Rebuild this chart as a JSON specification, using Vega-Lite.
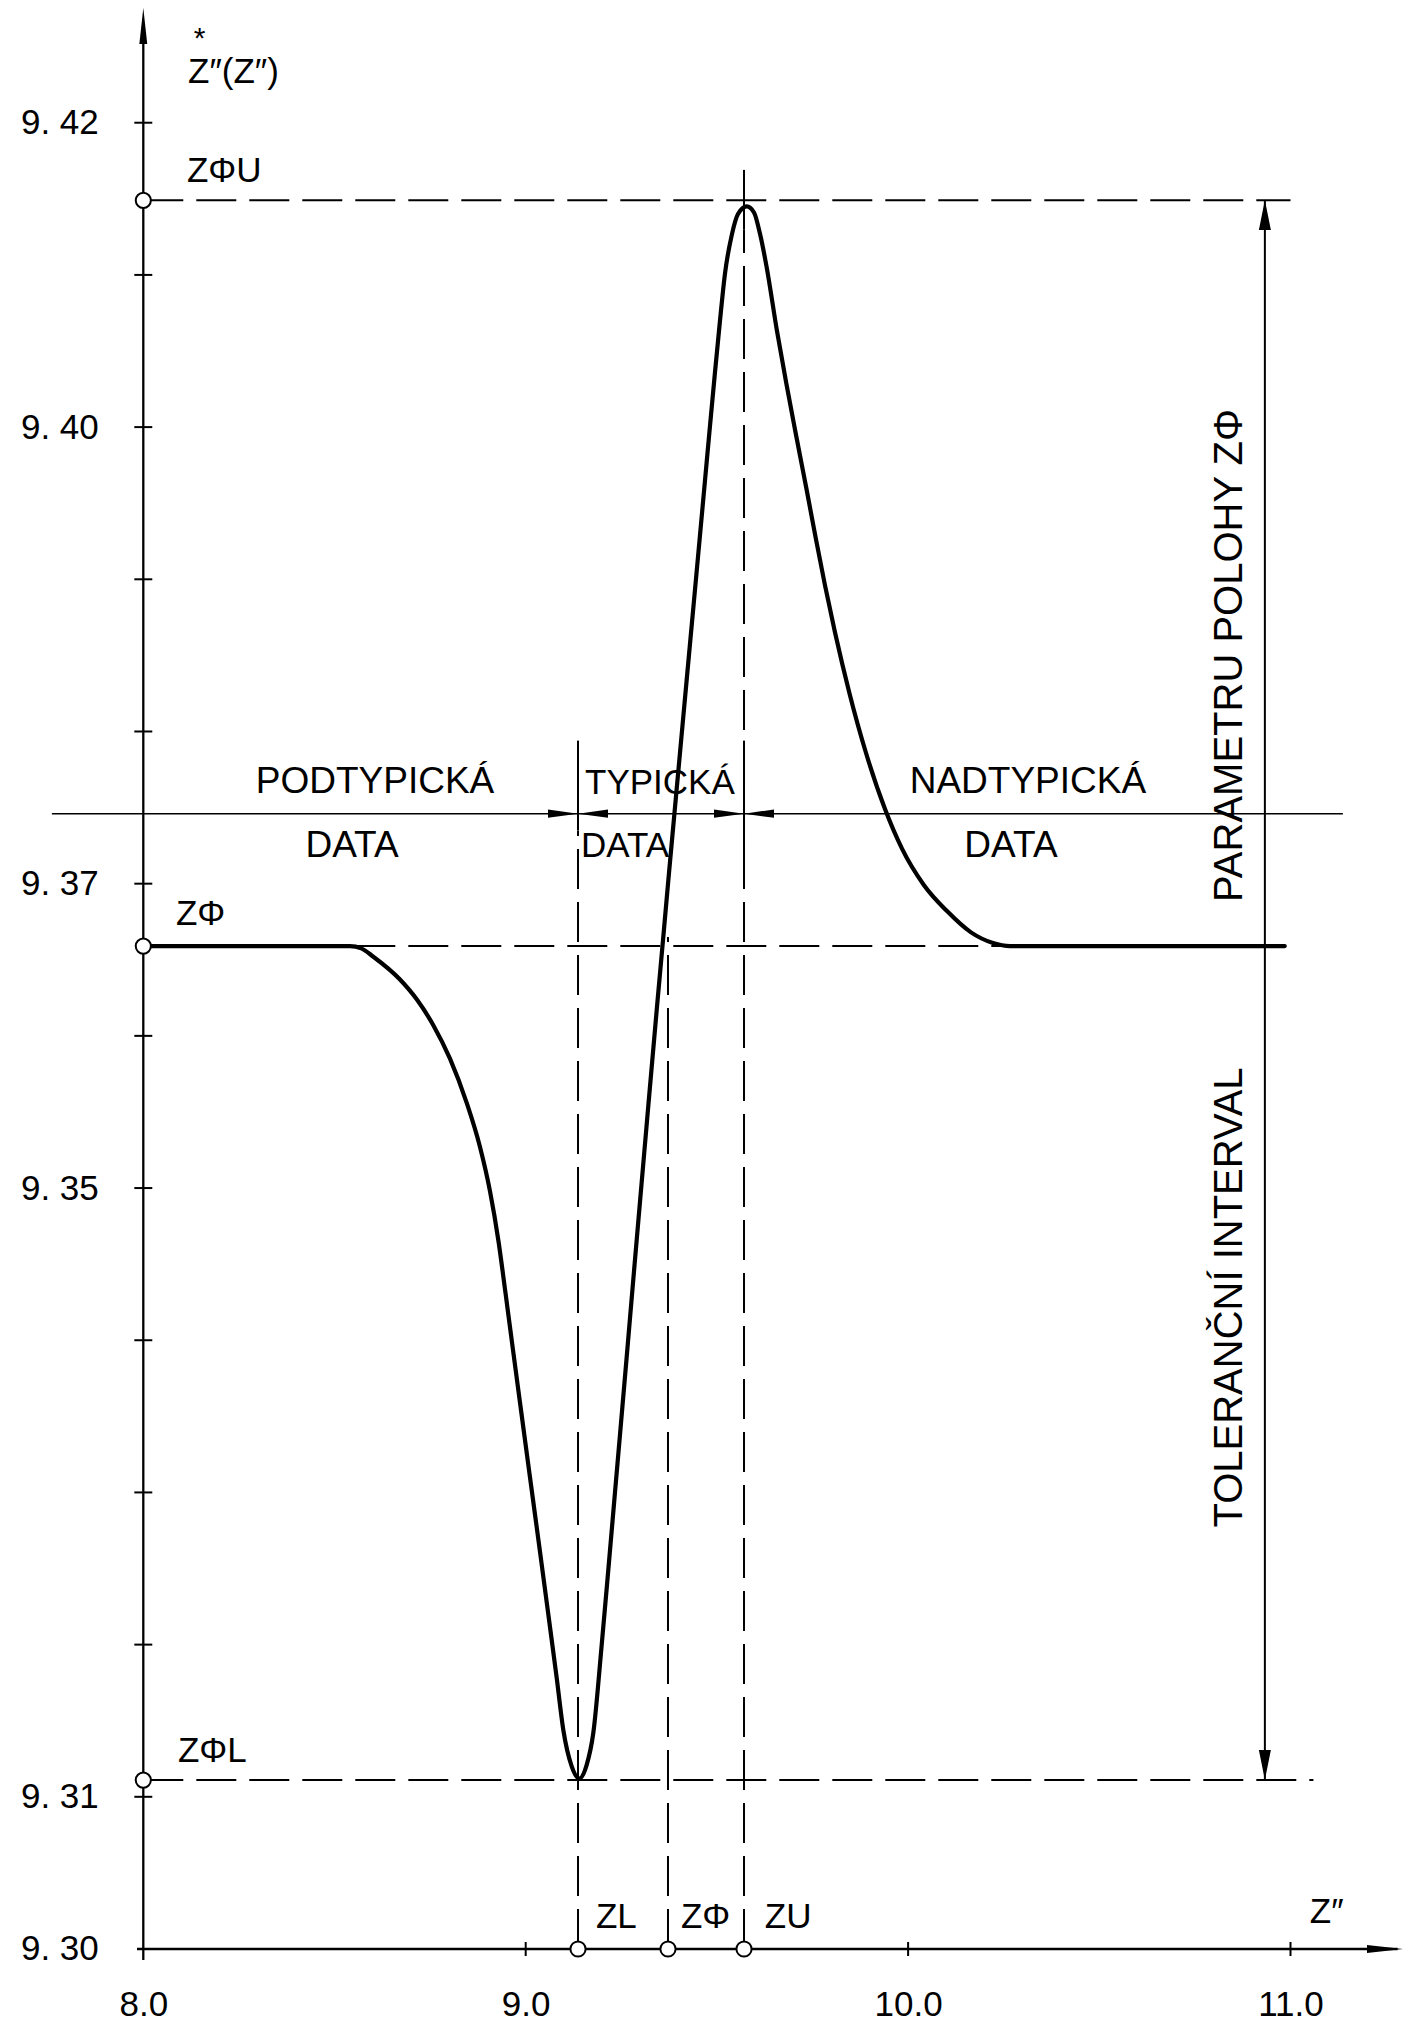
{
  "$schema": "https://vega.github.io/schema/vega-lite/v6.json",
  "width": 1415,
  "height": 2025,
  "autosize": {"type": "none"},
  "padding": 0,
  "background": "white",
  "config": {"view": {"stroke": null}, "font": "Liberation Sans, DejaVu Sans, sans-serif"},
  "datasets": {
    "curve": [
      {"x": 8.0000, "y": 9.3659}, {"x": 8.5405, "y": 9.3659}, {"x": 8.5700, "y": 9.36575}, {"x": 8.6015, "y": 9.3652},
      {"x": 8.6713, "y": 9.3637}, {"x": 8.7150, "y": 9.3624}, {"x": 8.7584, "y": 9.3607}, {"x": 8.8020, "y": 9.3585},
      {"x": 8.8457, "y": 9.3556}, {"x": 8.8805, "y": 9.3527}, {"x": 8.9066, "y": 9.3498}, {"x": 8.9289, "y": 9.3465},
      {"x": 8.9472, "y": 9.3431}, {"x": 8.9655, "y": 9.3396}, {"x": 8.9851, "y": 9.3359}, {"x": 9.0112, "y": 9.3310},
      {"x": 9.0374, "y": 9.3261}, {"x": 9.0591, "y": 9.3220}, {"x": 9.0811, "y": 9.3178}, {"x": 9.0983, "y": 9.3144},
      {"x": 9.1203, "y": 9.3120}, {"x": 9.1402, "y": 9.3112}, {"x": 9.1595, "y": 9.3121}, {"x": 9.1768, "y": 9.3142},
      {"x": 9.1988, "y": 9.3200}, {"x": 9.2160, "y": 9.3249}, {"x": 9.2335, "y": 9.3300}, {"x": 9.2466, "y": 9.3338},
      {"x": 9.2641, "y": 9.3389}, {"x": 9.2814, "y": 9.3440}, {"x": 9.2989, "y": 9.3491}, {"x": 9.3206, "y": 9.3554},
      {"x": 9.3426, "y": 9.3617}, {"x": 9.3598, "y": 9.3665}, {"x": 9.3729, "y": 9.3702}, {"x": 9.3878, "y": 9.3743},
      {"x": 9.4035, "y": 9.3786}, {"x": 9.4210, "y": 9.3834}, {"x": 9.4401, "y": 9.3886}, {"x": 9.4558, "y": 9.3929},
      {"x": 9.4689, "y": 9.3965}, {"x": 9.4820, "y": 9.4001}, {"x": 9.4950, "y": 9.4036}, {"x": 9.5081, "y": 9.4070},
      {"x": 9.5212, "y": 9.4101}, {"x": 9.5387, "y": 9.4126}, {"x": 9.5552, "y": 9.4140}, {"x": 9.5780, "y": 9.4145},
      {"x": 9.5970, "y": 9.4141}, {"x": 9.6127, "y": 9.4127}, {"x": 9.6302, "y": 9.4105}, {"x": 9.6572, "y": 9.4063},
      {"x": 9.6820, "y": 9.4028}, {"x": 9.7076, "y": 9.3994}, {"x": 9.7338, "y": 9.3960}, {"x": 9.7578, "y": 9.3928},
      {"x": 9.7827, "y": 9.3896}, {"x": 9.8089, "y": 9.3865}, {"x": 9.8468, "y": 9.3825}, {"x": 9.8886, "y": 9.3787},
      {"x": 9.9396, "y": 9.3749}, {"x": 9.9840, "y": 9.3723}, {"x": 10.0416, "y": 9.3699}, {"x": 10.1017, "y": 9.3682},
      {"x": 10.1645, "y": 9.3668}, {"x": 10.2220, "y": 9.3661}, {"x": 10.2665, "y": 9.3659}, {"x": 10.9850, "y": 9.3659}
    ],
    "lines": [
      {"kind": "axis", "x": 8, "x2": 8, "y": 9.29928, "y2": 9.4265},
      {"kind": "axis", "x": 7.9835, "x2": 11.28, "y": 9.30, "y2": 9.30},
      {"kind": "tick", "x": 7.9765, "x2": 8.0235, "y": 9.31, "y2": 9.31},
      {"kind": "tick", "x": 7.9765, "x2": 8.0235, "y": 9.32, "y2": 9.32},
      {"kind": "tick", "x": 7.9765, "x2": 8.0235, "y": 9.33, "y2": 9.33},
      {"kind": "tick", "x": 7.9765, "x2": 8.0235, "y": 9.34, "y2": 9.34},
      {"kind": "tick", "x": 7.9765, "x2": 8.0235, "y": 9.35, "y2": 9.35},
      {"kind": "tick", "x": 7.9765, "x2": 8.0235, "y": 9.36, "y2": 9.36},
      {"kind": "tick", "x": 7.9765, "x2": 8.0235, "y": 9.37, "y2": 9.37},
      {"kind": "tick", "x": 7.9765, "x2": 8.0235, "y": 9.38, "y2": 9.38},
      {"kind": "tick", "x": 7.9765, "x2": 8.0235, "y": 9.39, "y2": 9.39},
      {"kind": "tick", "x": 7.9765, "x2": 8.0235, "y": 9.40, "y2": 9.40},
      {"kind": "tick", "x": 7.9765, "x2": 8.0235, "y": 9.41, "y2": 9.41},
      {"kind": "tick", "x": 7.9765, "x2": 8.0235, "y": 9.42, "y2": 9.42},
      {"kind": "tick", "x": 9, "x2": 9, "y": 9.29954, "y2": 9.30046},
      {"kind": "tick", "x": 10, "x2": 10, "y": 9.29954, "y2": 9.30046},
      {"kind": "tick", "x": 11, "x2": 11, "y": 9.29954, "y2": 9.30046},
      {"kind": "dash", "x": 8, "x2": 11.0, "y": 9.4149, "y2": 9.4149},
      {"kind": "dash", "x": 8, "x2": 10.985, "y": 9.3659, "y2": 9.3659},
      {"kind": "dash", "x": 8, "x2": 11.06, "y": 9.3111, "y2": 9.3111},
      {"kind": "dash", "x": 9.1368, "x2": 9.1368, "y": 9.30, "y2": 9.3735},
      {"kind": "dash", "x": 9.3721, "x2": 9.3721, "y": 9.30, "y2": 9.3665},
      {"kind": "dash", "x": 9.5709, "x2": 9.5709, "y": 9.30, "y2": 9.4130},
      {"kind": "solid", "x": 9.1368, "x2": 9.1368, "y": 9.3735, "y2": 9.3794},
      {"kind": "solid", "x": 9.5709, "x2": 9.5709, "y": 9.4130, "y2": 9.4169},
      {"kind": "solid", "x": 9.5709, "x2": 9.5709, "y": 9.3700, "y2": 9.3794},
      {"kind": "solid", "x": 10.933, "x2": 10.933, "y": 9.3111, "y2": 9.4149},
      {"kind": "thin", "x": 7.761, "x2": 11.137, "y": 9.3746, "y2": 9.3746}
    ],
    "arrows": [
      {"dir": "up_axis", "x": 8, "y": 9.42635},
      {"dir": "right_axis", "x": 11.2471, "y": 9.30},
      {"dir": "up_dim", "x": 10.933, "y": 9.41394},
      {"dir": "down_dim", "x": 10.933, "y": 9.31209},
      {"dir": "right_reg", "x": 9.0976, "y": 9.3746},
      {"dir": "left_reg", "x": 9.1760, "y": 9.3746},
      {"dir": "right_reg", "x": 9.5317, "y": 9.3746},
      {"dir": "left_reg", "x": 9.6101, "y": 9.3746}
    ],
    "circles": [
      {"name": "ZΦU", "x": 8, "y": 9.4149},
      {"name": "ZΦ", "x": 8, "y": 9.3659},
      {"name": "ZΦL", "x": 8, "y": 9.3111},
      {"name": "ZL", "x": 9.1368, "y": 9.30},
      {"name": "ZΦ", "x": 9.3721, "y": 9.30},
      {"name": "ZU", "x": 9.5709, "y": 9.30}
    ],
    "labels": [
      {"text": "PODTYPICKÁ", "x": 8.6059, "y": 9.37596, "grp": "c"},
      {"text": "DATA", "x": 8.5458, "y": 9.37175, "grp": "c"},
      {"text": "NADTYPICKÁ", "x": 10.3134, "y": 9.37596, "grp": "c"},
      {"text": "DATA", "x": 10.2690, "y": 9.37175, "grp": "c"},
      {"text": "TYPICKÁ", "x": 9.1551, "y": 9.37589, "grp": "l"},
      {"text": "DATA", "x": 9.1446, "y": 9.37175, "grp": "l"},
      {"text": "ZΦU", "x": 8.1140, "y": 9.41611, "grp": "l"},
      {"text": "ZΦ", "x": 8.0855, "y": 9.36728, "grp": "l"},
      {"text": "ZΦL", "x": 8.0907, "y": 9.31229, "grp": "l"},
      {"text": "ZL", "x": 9.1838, "y": 9.30138, "grp": "l"},
      {"text": "ZΦ", "x": 9.4061, "y": 9.30138, "grp": "l"},
      {"text": "ZU", "x": 9.6254, "y": 9.30138, "grp": "l"},
      {"text": "Z″", "x": 11.0506, "y": 9.30171, "grp": "l"},
      {"text": "Z″(Z″)", "x": 8.1169, "y": 9.42261, "grp": "l"},
      {"text": "*", "x": 8.147, "y": 9.42491, "grp": "star"},
      {"text": "TOLERANČNÍ INTERVAL", "x": 10.8418, "y": 9.34281, "grp": "r"},
      {"text": "PARAMETRU POLOHY ZΦ", "x": 10.8418, "y": 9.38499, "grp": "r"}
    ]
  },
  "encoding": {
    "x": {
      "field": "x", "type": "quantitative",
      "scale": {"domain": [7.62526, 11.32558], "nice": false, "zero": false},
      "axis": {
        "values": [8, 9, 10, 11], "format": ".1f", "title": null, "domain": false, "ticks": false, "tickSize": 0,
        "grid": false, "labelFontSize": 35, "labelColor": "black", "labelPadding": 66, "labelBaseline": "alphabetic",
        "labelFlush": false, "labelOverlap": false, "offset": -76, "labelFont": "Liberation Sans, DejaVu Sans, sans-serif"
      }
    },
    "y": {
      "field": "y", "type": "quantitative",
      "scale": {"domain": [9.295006, 9.428064], "nice": false, "zero": false},
      "axis": {
        "values": [9.30, 9.31, 9.35, 9.37, 9.40, 9.42],
        "labelExpr": "replace(format(datum.value, '.2f'), '.', '. ')",
        "title": null, "domain": false, "ticks": false, "tickSize": 0, "grid": false,
        "labelFontSize": 35, "labelColor": "black", "labelPadding": 45, "labelAlign": "right", "labelBaseline": "middle",
        "labelFlush": false, "labelOverlap": false, "offset": -143.3, "labelFont": "Liberation Sans, DejaVu Sans, sans-serif"
      }
    }
  },
  "layer": [
    {
      "data": {"name": "lines"},
      "transform": [{"filter": "datum.kind === 'thin'"}],
      "mark": {"type": "rule", "strokeWidth": 1.5, "color": "black"},
      "encoding": {"x2": {"field": "x2"}, "y2": {"field": "y2"}}
    },
    {
      "data": {"name": "lines"},
      "transform": [{"filter": "datum.kind === 'dash'"}],
      "mark": {"type": "rule", "strokeWidth": 2, "strokeDash": [40, 13], "color": "black"},
      "encoding": {"x2": {"field": "x2"}, "y2": {"field": "y2"}}
    },
    {
      "data": {"name": "lines"},
      "transform": [{"filter": "datum.kind === 'solid' || datum.kind === 'tick'"}],
      "mark": {"type": "rule", "strokeWidth": 2, "color": "black"},
      "encoding": {"x2": {"field": "x2"}, "y2": {"field": "y2"}}
    },
    {
      "data": {"name": "lines"},
      "transform": [{"filter": "datum.kind === 'axis'"}],
      "mark": {"type": "rule", "strokeWidth": 2.3, "color": "black"},
      "encoding": {"x2": {"field": "x2"}, "y2": {"field": "y2"}}
    },
    {
      "data": {"name": "curve"},
      "mark": {"type": "line", "interpolate": "monotone", "strokeWidth": 4.2, "color": "black", "strokeCap": "round", "strokeJoin": "round"}
    },
    {
      "data": {"name": "arrows"},
      "transform": [{"filter": "datum.dir === 'up_axis'"}],
      "mark": {"type": "point", "shape": "M0,-1L0.22,1L-0.22,1Z", "size": 1296, "filled": true, "color": "black", "opacity": 1, "strokeWidth": 0}
    },
    {
      "data": {"name": "arrows"},
      "transform": [{"filter": "datum.dir === 'right_axis'"}],
      "mark": {"type": "point", "shape": "M1,0L-1,-0.22L-1,0.22Z", "size": 1296, "filled": true, "color": "black", "opacity": 1, "strokeWidth": 0}
    },
    {
      "data": {"name": "arrows"},
      "transform": [{"filter": "datum.dir === 'up_dim'"}],
      "mark": {"type": "point", "shape": "M0,-1L0.4,1L-0.4,1Z", "size": 900, "filled": true, "color": "black", "opacity": 1, "strokeWidth": 0}
    },
    {
      "data": {"name": "arrows"},
      "transform": [{"filter": "datum.dir === 'down_dim'"}],
      "mark": {"type": "point", "shape": "M0,1L0.4,-1L-0.4,-1Z", "size": 900, "filled": true, "color": "black", "opacity": 1, "strokeWidth": 0}
    },
    {
      "data": {"name": "arrows"},
      "transform": [{"filter": "datum.dir === 'right_reg'"}],
      "mark": {"type": "point", "shape": "M1,0L-1,-0.28L-1,0.28Z", "size": 900, "filled": true, "color": "black", "opacity": 1, "strokeWidth": 0}
    },
    {
      "data": {"name": "arrows"},
      "transform": [{"filter": "datum.dir === 'left_reg'"}],
      "mark": {"type": "point", "shape": "M-1,0L1,-0.28L1,0.28Z", "size": 900, "filled": true, "color": "black", "opacity": 1, "strokeWidth": 0}
    },
    {
      "data": {"name": "circles"},
      "mark": {"type": "point", "shape": "circle", "size": 230, "filled": true, "fill": "white", "stroke": "black", "strokeWidth": 2, "opacity": 1}
    },
    {
      "data": {"name": "labels"},
      "transform": [{"filter": "datum.grp === 'c'"}],
      "mark": {"type": "text", "align": "center", "baseline": "alphabetic", "fontSize": 37, "color": "black"},
      "encoding": {"text": {"field": "text"}}
    },
    {
      "data": {"name": "labels"},
      "transform": [{"filter": "datum.grp === 'l'"}],
      "mark": {"type": "text", "align": "left", "baseline": "alphabetic", "fontSize": 35, "color": "black"},
      "encoding": {"text": {"field": "text"}}
    },
    {
      "data": {"name": "labels"},
      "transform": [{"filter": "datum.grp === 'star'"}],
      "mark": {"type": "text", "align": "center", "baseline": "alphabetic", "fontSize": 30, "color": "black"},
      "encoding": {"text": {"field": "text"}}
    },
    {
      "data": {"name": "labels"},
      "transform": [{"filter": "datum.grp === 'r'"}],
      "mark": {"type": "text", "align": "center", "baseline": "middle", "angle": 270, "fontSize": 40, "color": "black"},
      "encoding": {"text": {"field": "text"}}
    }
  ]
}
